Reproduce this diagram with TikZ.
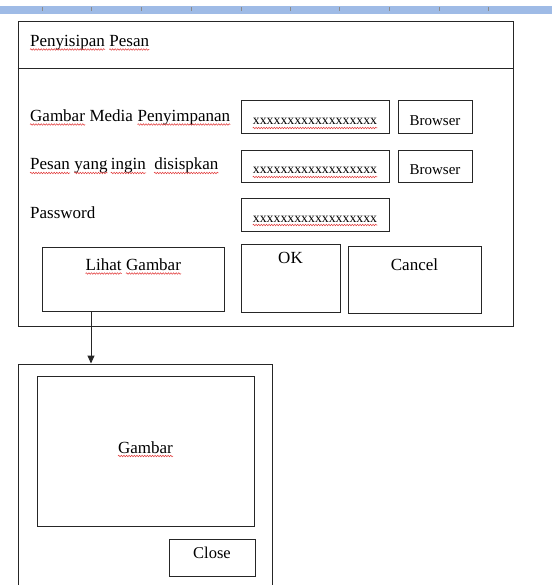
\documentclass[tikz,border=0pt]{standalone}
\usepackage{fontspec}
\setmainfont{Liberation Serif}
\usetikzlibrary{arrows.meta,decorations.pathmorphing}
\definecolor{spellred}{HTML}{E23B3B}
\definecolor{rulerblue}{HTML}{9FBBE6}
\begin{document}
\begin{tikzpicture}[x=1pt,y=-1pt,
  box/.style={draw=black!85, line width=1pt, inner sep=0pt, rectangle},
  lbl/.style={anchor=base west, inner sep=0pt, font=\fontsize{17}{19}\selectfont},
  ctxt/.style={anchor=base, inner sep=0pt, font=\fontsize{17}{19}\selectfont},
  ftxt/.style={anchor=base, inner sep=0pt, font=\fontsize{13.8}{16}\selectfont},
  btxt/.style={anchor=base, inner sep=0pt, font=\fontsize{15}{17}\selectfont},
  arr/.style={draw=black!85, line width=1pt, -{Triangle[length=8pt,width=7pt]}},
  squig/.style={draw=spellred, line width=0.5pt, decorate,
    decoration={snake, amplitude=0.8pt, segment length=2.6pt}}
]
\useasboundingbox (0,0) rectangle (552,585);
\fill[white] (0,0) rectangle (552,585);
% ruler
\fill[rulerblue] (0,6) rectangle (552,14);
\foreach \x in {42,91,141,191,241,290,339,389,439,488}
  \draw[black!45, line width=0.6pt] (\x,7.5) -- (\x,11.5);

% main dialog
\node[box, minimum width=495pt, minimum height=304pt] (main) at (265.5,174) {};
\coordinate (sep) at (0,69);
\draw[black!85, line width=1pt] (main.west |- sep) -- (main.east |- sep);
\node[lbl] (ti1) at (30,46.5) {Penyisipan};
\node[lbl] (ti2) at ([xshift=4.2pt]ti1.base east) {Pesan};

\node[lbl] (l1a) at (30,121.5) {Gambar};
\node[lbl] (l1b) at ([xshift=4.2pt]l1a.base east) {Media};
\node[lbl] (l1c) at ([xshift=4.2pt]l1b.base east) {Penyimpanan};
\node[lbl] (l2a) at (30,170) {Pesan};
\node[lbl] (l2b) at ([xshift=4.2pt]l2a.base east) {yang};
\node[lbl] (l2c) at ([xshift=3pt]l2b.base east) {ingin};
\node[lbl] (l2d) at ([xshift=8pt]l2c.base east) {disispkan};
\node[lbl] (l3) at (30,218) {Password};

\node[box, minimum width=148pt, minimum height=33pt] (f1) at (315,117.5) {};
\node[box, minimum width=148pt, minimum height=32pt] (f2) at (315,166.5) {};
\node[box, minimum width=148pt, minimum height=33pt] (f3) at (315,214.5) {};
\node[ftxt] (t1) at (315,125) {xxxxxxxxxxxxxxxxxx};
\node[ftxt] (t2) at (315,174) {xxxxxxxxxxxxxxxxxx};
\node[ftxt] (t3) at (315,222) {xxxxxxxxxxxxxxxxxx};

\node[box, minimum width=74pt, minimum height=33pt] (b1) at (435,117.5) {};
\node[box, minimum width=74pt, minimum height=32pt] (b2) at (435,166.5) {};
\node[btxt] (bt1) at (435,125.5) {Browser};
\node[btxt] (bt2) at (435,174.5) {Browser};

\node[box, minimum width=182pt, minimum height=64pt] (lihat) at (133,279) {};
\node[box, minimum width=99pt, minimum height=68pt] (ok) at (290.5,278) {};
\node[box, minimum width=133pt, minimum height=67pt] (cancel) at (414.5,279.5) {};
\node[lbl] (lt1) at (85.5,270.5) {Lihat};
\node[lbl] (lt2) at ([xshift=4.2pt]lt1.base east) {Gambar};
\node[ctxt] (okt) at (290.5,263) {OK};
\node[ctxt] (ct) at (414.5,270) {Cancel};

% viewer
\node[box, minimum width=254pt, minimum height=240pt] (viewer) at (145,484) {};
\node[box, minimum width=217pt, minimum height=150pt] (img) at (145.5,451) {};
\node[ctxt] (gt) at (145.5,453) {Gambar};
\node[box, minimum width=86pt, minimum height=37pt] (close) at (212,557.5) {};
\node[ctxt, font=\fontsize{16.5}{18}\selectfont] (clt) at (212,558) {Close};

% spell-check squiggles
\foreach \n in {ti1,ti2,l1a,l1c,l2a,l2b,l2c,l2d,t1,t2,t3,lt1,lt2,gt}
  \draw[squig] ([yshift=-3pt]\n.base west) -- ([yshift=-3pt]\n.base east);

\coordinate (ax) at (91,0);
\draw[arr] (lihat.south -| ax) -- (viewer.north -| ax);
\end{tikzpicture}
\end{document}
